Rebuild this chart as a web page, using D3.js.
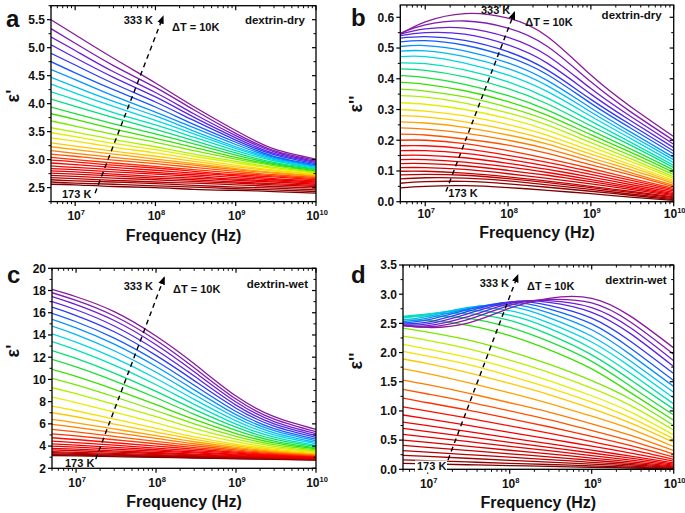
<!DOCTYPE html>
<html><head><meta charset="utf-8">
<script src="https://cdn.jsdelivr.net/npm/d3@7"></script>
<style>
body{margin:0;background:#fff}
svg{display:block;font-family:Arial,"Liberation Sans",Helvetica,sans-serif;font-weight:bold}
</style></head>
<body><svg id="chart" width="685" height="513"></svg>
<script>
// ---------- data ----------
const freqs = [5e6, 1e7, 3e7, 1e8, 3e8, 1e9, 3e9, 1e10];
const temperatures = [333,328,323,318,313,308,303,298,293,288,283,278,273,268,263,258,253,248,243,238,233,228,223,218,213,208,203,198,193,188,183,178,173];

const dryReal = [
[5.50,5.23,4.81,4.37,3.95,3.52,3.19,3.01],[5.34,5.08,4.68,4.29,3.89,3.47,3.16,2.99],
[5.19,4.95,4.57,4.20,3.82,3.43,3.14,2.97],[5.05,4.82,4.47,4.12,3.76,3.39,3.11,2.95],
[4.90,4.69,4.36,4.03,3.70,3.35,3.09,2.93],[4.75,4.55,4.25,3.94,3.63,3.31,3.06,2.91],
[4.61,4.43,4.14,3.85,3.57,3.27,3.04,2.89],[4.47,4.30,4.04,3.78,3.51,3.23,3.02,2.88],
[4.35,4.19,3.95,3.70,3.46,3.20,3.00,2.86],[4.21,4.07,3.84,3.62,3.40,3.16,2.98,2.85],
[4.08,3.95,3.75,3.54,3.34,3.12,2.95,2.83],[3.94,3.82,3.64,3.46,3.28,3.08,2.93,2.82],
[3.82,3.72,3.55,3.38,3.22,3.04,2.91,2.80],[3.69,3.60,3.45,3.31,3.16,3.01,2.89,2.79],
[3.57,3.49,3.36,3.23,3.10,2.97,2.86,2.77],[3.48,3.41,3.29,3.18,3.06,2.94,2.84,2.76],
[3.39,3.33,3.22,3.12,3.01,2.90,2.81,2.74],[3.30,3.24,3.15,3.06,2.97,2.87,2.80,2.73],
[3.23,3.18,3.10,3.01,2.93,2.84,2.77,2.71],[3.16,3.11,3.04,2.97,2.90,2.82,2.76,2.70],
[3.10,3.06,2.99,2.93,2.86,2.79,2.73,2.68],[3.04,3.00,2.94,2.88,2.82,2.76,2.71,2.66],
[2.99,2.96,2.90,2.85,2.79,2.73,2.69,2.64],[2.94,2.91,2.86,2.81,2.76,2.71,2.66,2.62],
[2.89,2.86,2.82,2.77,2.73,2.68,2.64,2.60],[2.84,2.82,2.78,2.74,2.70,2.65,2.62,2.58],
[2.80,2.78,2.74,2.70,2.67,2.63,2.60,2.56],[2.76,2.74,2.71,2.67,2.64,2.60,2.57,2.54],
[2.72,2.70,2.67,2.64,2.61,2.58,2.55,2.52],[2.68,2.66,2.63,2.60,2.58,2.55,2.52,2.49],
[2.64,2.62,2.60,2.57,2.54,2.51,2.49,2.46],[2.60,2.58,2.56,2.53,2.51,2.48,2.46,2.43],
[2.56,2.55,2.52,2.50,2.47,2.45,2.43,2.40]
];

const dryImag = [
[0.545,0.585,0.612,0.597,0.537,0.412,0.310,0.212],[0.548,0.575,0.588,0.565,0.505,0.390,0.293,0.199],
[0.545,0.562,0.565,0.535,0.475,0.368,0.278,0.187],[0.540,0.550,0.545,0.510,0.450,0.350,0.264,0.176],
[0.532,0.537,0.525,0.488,0.428,0.333,0.251,0.165],[0.520,0.524,0.509,0.471,0.413,0.320,0.240,0.155],
[0.505,0.508,0.491,0.452,0.394,0.305,0.227,0.144],[0.490,0.491,0.472,0.433,0.377,0.292,0.217,0.136],
[0.472,0.472,0.451,0.412,0.358,0.278,0.206,0.127],[0.452,0.449,0.429,0.390,0.337,0.262,0.194,0.118],
[0.432,0.427,0.406,0.368,0.318,0.247,0.184,0.111],[0.410,0.404,0.382,0.345,0.298,0.232,0.172,0.103],
[0.388,0.382,0.361,0.326,0.281,0.218,0.161,0.095],[0.366,0.360,0.341,0.307,0.265,0.205,0.151,0.088],
[0.345,0.340,0.321,0.289,0.249,0.192,0.140,0.081],[0.322,0.317,0.300,0.270,0.232,0.179,0.131,0.075],
[0.300,0.295,0.279,0.251,0.216,0.166,0.121,0.069],[0.280,0.276,0.260,0.234,0.201,0.155,0.113,0.064],
[0.260,0.256,0.242,0.217,0.187,0.143,0.104,0.059],[0.240,0.236,0.223,0.200,0.172,0.132,0.095,0.053],
[0.220,0.217,0.204,0.184,0.157,0.120,0.087,0.048],[0.200,0.200,0.189,0.166,0.140,0.108,0.077,0.043],
[0.182,0.182,0.172,0.151,0.128,0.098,0.070,0.039],[0.166,0.166,0.157,0.138,0.116,0.089,0.063,0.035],
[0.151,0.151,0.143,0.125,0.105,0.080,0.056,0.030],[0.137,0.137,0.129,0.113,0.095,0.072,0.050,0.026],
[0.124,0.124,0.117,0.102,0.086,0.065,0.045,0.023],[0.111,0.111,0.105,0.091,0.076,0.058,0.040,0.020],
[0.099,0.099,0.093,0.081,0.067,0.050,0.034,0.016],[0.087,0.089,0.086,0.075,0.062,0.046,0.030,0.013],
[0.074,0.078,0.077,0.068,0.055,0.040,0.025,0.010],[0.060,0.065,0.066,0.058,0.047,0.034,0.021,0.007],
[0.045,0.050,0.052,0.046,0.037,0.026,0.015,0.004]
];

const wetReal = [
[18.10,17.44,16.10,13.90,11.40,8.50,6.65,5.50],[17.80,17.11,15.71,13.53,11.05,8.23,6.43,5.30],
[17.45,16.73,15.30,13.12,10.69,7.97,6.21,5.12],[17.00,16.27,14.81,12.65,10.30,7.69,6.00,4.95],
[16.50,15.75,14.29,12.16,9.89,7.41,5.79,4.78],[15.95,15.19,13.72,11.66,9.47,7.11,5.57,4.62],
[15.40,14.63,13.17,11.16,9.06,6.83,5.38,4.47],[14.80,14.04,12.58,10.64,8.64,6.56,5.19,4.33],
[14.10,13.35,11.93,10.08,8.20,6.27,5.00,4.20],[13.40,12.66,11.28,9.52,7.76,5.98,4.81,4.07],
[12.60,11.89,10.57,8.92,7.31,5.70,4.62,3.95],[11.80,11.12,9.87,8.35,6.86,5.42,4.45,3.84],
[10.90,10.27,9.11,7.73,6.40,5.13,4.28,3.74],[10.10,9.51,8.44,7.18,6.00,4.88,4.13,3.65],
[9.25,8.71,7.74,6.64,5.59,4.62,3.98,3.56],[8.40,7.92,7.06,6.08,5.19,4.39,3.83,3.48],
[7.60,7.18,6.43,5.59,4.83,4.16,3.70,3.41],[7.00,6.64,5.98,5.26,4.61,4.03,3.62,3.34],
[6.40,6.09,5.54,4.94,4.39,3.89,3.53,3.28],[5.95,5.68,5.21,4.69,4.21,3.77,3.46,3.22],
[5.50,5.27,4.87,4.43,4.03,3.66,3.39,3.17],[5.10,4.91,4.57,4.21,3.87,3.55,3.31,3.12],
[4.75,4.59,4.30,4.00,3.72,3.45,3.24,3.07],[4.45,4.31,4.08,3.82,3.59,3.36,3.18,3.03],
[4.20,4.09,3.89,3.67,3.47,3.28,3.13,2.99],[4.00,3.90,3.73,3.55,3.38,3.21,3.08,2.95],
[3.80,3.72,3.57,3.42,3.28,3.14,3.02,2.91],[3.65,3.58,3.46,3.33,3.21,3.08,2.98,2.88],
[3.50,3.44,3.34,3.23,3.13,3.03,2.94,2.85],[3.40,3.35,3.26,3.16,3.07,2.98,2.90,2.82],
[3.30,3.25,3.18,3.10,3.02,2.94,2.87,2.79],[3.22,3.18,3.11,3.04,2.97,2.89,2.83,2.76],
[3.15,3.11,3.05,2.99,2.92,2.86,2.80,2.73]
];

const wetImag = [
[2.47,2.43,2.50,2.76,2.93,2.93,2.62,2.08],[2.46,2.44,2.56,2.81,2.91,2.85,2.52,1.97],
[2.46,2.46,2.61,2.84,2.89,2.77,2.42,1.86],[2.47,2.49,2.66,2.86,2.86,2.69,2.32,1.76],
[2.49,2.52,2.70,2.87,2.81,2.59,2.19,1.64],[2.51,2.56,2.73,2.86,2.75,2.49,2.07,1.52],
[2.53,2.59,2.75,2.83,2.68,2.39,1.96,1.42],[2.56,2.62,2.77,2.79,2.60,2.28,1.85,1.32],
[2.59,2.65,2.75,2.72,2.51,2.18,1.75,1.22],[2.61,2.66,2.72,2.64,2.42,2.07,1.64,1.12],
[2.62,2.66,2.67,2.55,2.31,1.96,1.53,1.03],[2.61,2.63,2.59,2.43,2.19,1.85,1.42,0.93],
[2.56,2.55,2.47,2.29,2.05,1.72,1.31,0.84],[2.42,2.35,2.22,2.02,1.80,1.52,1.20,0.75],
[2.28,2.21,2.07,1.87,1.66,1.39,1.09,0.67],[2.14,2.06,1.92,1.73,1.52,1.26,0.98,0.59],
[2.02,1.94,1.80,1.60,1.40,1.15,0.88,0.52],[1.89,1.81,1.66,1.47,1.28,1.04,0.79,0.46],
[1.72,1.64,1.49,1.31,1.13,0.91,0.69,0.39],[1.53,1.45,1.31,1.14,0.98,0.78,0.58,0.32],
[1.37,1.29,1.16,1.00,0.85,0.665,0.485,0.26],[1.22,1.14,1.018,0.867,0.729,0.565,0.406,0.21],
[1.07,0.997,0.881,0.743,0.619,0.473,0.336,0.17],[0.93,0.863,0.756,0.633,0.523,0.396,0.278,0.14],
[0.81,0.747,0.649,0.537,0.439,0.327,0.226,0.11],[0.70,0.645,0.560,0.462,0.377,0.279,0.191,0.09],
[0.60,0.552,0.478,0.393,0.319,0.234,0.157,0.07],[0.50,0.460,0.398,0.326,0.264,0.193,0.128,0.055],
[0.41,0.377,0.325,0.266,0.214,0.155,0.101,0.04],[0.32,0.294,0.253,0.207,0.166,0.120,0.078,0.03],
[0.24,0.220,0.189,0.154,0.123,0.088,0.056,0.02],[0.16,0.147,0.126,0.102,0.082,0.058,0.036,0.012],
[0.10,0.092,0.078,0.063,0.050,0.035,0.022,0.006]
];

const ticksA = [2.5,3.0,3.5,4.0,4.5,5.0,5.5];
const ticksB = [0.0,0.1,0.2,0.3,0.4,0.5,0.6];
const ticksC = [2,4,6,8,10,12,14,16,18,20];
const ticksD = [0.0,0.5,1.0,1.5,2.0,2.5,3.0,3.5];
const decadeExps = [7,8,9,10];

// dashed temperature arrows: [start (173 K), end (333 K)] in (frequency, value)
const arrowA = [[1.77e7,2.40],[1.24e8,5.55]];
const arrowB = [[1.78e7,0.033],[1.19e8,0.615]];
const arrowC = [[1.76e7,2.81],[1.26e8,19.15]];
const arrowD = [[1.77e7,0.16],[1.25e8,3.32]];

// rainbow palette (position 0 = 173 K, 1 = 333 K)
const colorStops = [0,0.08,0.18,0.30,0.36,0.42,0.47,0.52,0.57,0.63,0.69,0.74,0.80,0.86,0.92,1];
const colorValues = ["#7a0000","#b00000","#e00000","#ff0000","#ff4000","#ff8c00","#ffc800","#f0f000","#a8f000","#30e000","#00e080","#00e0e0","#00a8ff","#1e40ff","#6a1ee0","#8a1a9a"];

// ---------- drawing ----------
const svg = d3.select("#chart");
const color = d3.scaleLinear().domain(colorStops).range(colorValues).interpolate(d3.interpolateRgb);
const tMin = d3.min(temperatures), tMax = d3.max(temperatures);

svg.append("defs").append("marker")
  .attr("id","arrowhead").attr("viewBox","0 0 10 10").attr("refX",8).attr("refY",5)
  .attr("markerWidth",6).attr("markerHeight",6).attr("orient","auto")
  .append("path").attr("d","M0,1 L10,5 L0,9 Z").attr("fill","#000");

const panels = [
  {id:"a", data:dryReal, yDom:[2.25,5.75], ticks:ticksA, fmt:d3.format(".1f"), box:[51,316,5.7,201.6],
   yTitle:"ε'", yTitleXY:[13,96], sample:"dextrin-dry", arrow:arrowA, xLabDy:18.5, xTitleDy:39.5,
   letterXY:[6,27], hot:[102,18], dt:[121,25], samp:[11,18], cold:[11,192], coldBg:false},
  {id:"b", data:dryImag, yDom:[0,0.64], ticks:ticksB, fmt:d3.format(".1f"), box:[400.3,673.7,5,201.7],
   yTitle:"ε''", yTitleXY:[356,104], sample:"dextrin-dry", arrow:arrowB, xLabDy:16.5, xTitleDy:36.5,
   letterXY:[351,26], hot:[110,9], dt:[125,21], samp:[12,14], cold:[48,192], coldBg:false},
  {id:"c", data:wetReal, yDom:[2,20], ticks:ticksC, fmt:d3.format("d"), box:[52,316,268.3,468.3],
   yTitle:"ε'", yTitleXY:[13,351], sample:"dextrin-wet", arrow:arrowC, xLabDy:18.5, xTitleDy:39,
   letterXY:[7,283], hot:[101,22], dt:[121,25], samp:[8,20], cold:[13,199], coldBg:false},
  {id:"d", data:wetImag, yDom:[0,3.5], ticks:ticksD, fmt:d3.format(".1f"), box:[403,673.7,265,469.3],
   yTitle:"ε''", yTitleXY:[356,361], sample:"dextrin-wet", arrow:arrowD, xLabDy:19, xTitleDy:39,
   letterXY:[351,283], hot:[106,22], dt:[124,24.5], samp:[7,19], cold:[14,205], coldBg:true}
];

panels.forEach(p => {
  const [x0,x1,y0,y1] = p.box;
  const x = d3.scaleLog().domain([freqs[0], freqs[freqs.length-1]]).range([x0,x1]);
  const y = d3.scaleLinear().domain(p.yDom).range([y1,y0]);
  const g = svg.append("g");

  g.append("clipPath").attr("id","clip-"+p.id).append("rect")
    .attr("x",x0).attr("y",y0).attr("width",x1-x0).attr("height",y1-y0);

  const line = d3.line().x(d=>x(d[0])).y(d=>y(d[1])).curve(d3.curveNatural);
  const curves = g.append("g").attr("clip-path","url(#clip-"+p.id+")");
  // draw coldest first so the hottest curves sit on top
  for (let i = p.data.length-1; i >= 0; i--) {
    const pts = freqs.map((f,k)=>[f,p.data[i][k]]);
    curves.append("path").attr("d",line(pts)).attr("fill","none")
      .attr("stroke",color((temperatures[i]-tMin)/(tMax-tMin)))
      .attr("stroke-width",1.3);
  }

  // dashed arrow
  g.append("line")
    .attr("x1",x(p.arrow[0][0])).attr("y1",y(p.arrow[0][1]))
    .attr("x2",x(p.arrow[1][0])).attr("y2",y(p.arrow[1][1]))
    .attr("stroke","#000").attr("stroke-width",1.4).attr("stroke-dasharray","5,4")
    .attr("marker-end","url(#arrowhead)");

  // frame
  g.append("rect").attr("x",x0).attr("y",y0).attr("width",x1-x0).attr("height",y1-y0)
    .attr("fill","none").attr("stroke","#000").attr("stroke-width",1.3);

  // x ticks
  const [fLo,fHi] = x.domain();
  const minors = [];
  for (let e = 6; e <= 9; e++) for (let m = 2; m <= 9; m++) { const v = m*Math.pow(10,e); if (v>=fLo && v<=fHi) minors.push(v); }
  minors.forEach(v => {
    g.append("line").attr("x1",x(v)).attr("x2",x(v)).attr("y1",y1).attr("y2",y1+2.5).attr("stroke","#000").attr("stroke-width",1);
    g.append("line").attr("x1",x(v)).attr("x2",x(v)).attr("y1",y0).attr("y2",y0+2.5).attr("stroke","#000").attr("stroke-width",1);
  });
  decadeExps.forEach(e => {
    const v = Math.pow(10,e), xv = x(v);
    g.append("line").attr("x1",xv).attr("x2",xv).attr("y1",y1).attr("y2",y1+4.5).attr("stroke","#000").attr("stroke-width",1.2);
    g.append("line").attr("x1",xv).attr("x2",xv).attr("y1",y0).attr("y2",y0+4.5).attr("stroke","#000").attr("stroke-width",1.2);
    const t = g.append("text").attr("x",xv+1).attr("y",y1+p.xLabDy).attr("text-anchor","middle")
      .attr("font-size",12).attr("fill","#111").text("10");
    t.append("tspan").attr("dy",-5).attr("font-size",7.5).text(e);
  });

  // y ticks
  const step = p.ticks[1]-p.ticks[0];
  p.ticks.forEach((v,k) => {
    const yv = y(v);
    g.append("line").attr("x1",x0-4).attr("x2",x0).attr("y1",yv).attr("y2",yv).attr("stroke","#000").attr("stroke-width",1.2);
    g.append("line").attr("x1",x1-4).attr("x2",x1).attr("y1",yv).attr("y2",yv).attr("stroke","#000").attr("stroke-width",1.2);
    g.append("text").attr("x",x0-6).attr("y",yv).attr("dy","0.36em").attr("text-anchor","end")
      .attr("font-size",12).attr("fill","#111").text(p.fmt(v));
  });
  const yMinors = [];
  for (let v = p.ticks[0]-step/2; v <= p.yDom[1]; v += step) if (v >= p.yDom[0]) yMinors.push(v);
  yMinors.forEach(v => {
    const yv = y(v);
    g.append("line").attr("x1",x0-2.5).attr("x2",x0).attr("y1",yv).attr("y2",yv).attr("stroke","#000").attr("stroke-width",1);
    g.append("line").attr("x1",x1-2.5).attr("x2",x1).attr("y1",yv).attr("y2",yv).attr("stroke","#000").attr("stroke-width",1);
  });

  // titles
  g.append("text").attr("x",(x0+x1)/2).attr("y",y1+p.xTitleDy).attr("text-anchor","middle")
    .attr("font-size",16).attr("fill","#111").text("Frequency (Hz)");
  g.append("text").attr("transform",`translate(${p.yTitleXY[0]},${p.yTitleXY[1]}) rotate(-90)`)
    .attr("text-anchor","middle").attr("dy","0.35em").attr("font-size",18).attr("fill","#111").text(p.yTitle);
  g.append("text").attr("x",p.letterXY[0]).attr("y",p.letterXY[1]).attr("font-size",24).attr("fill","#111").text(p.id);

  // annotations
  g.append("text").attr("x",x0+p.hot[0]).attr("y",y0+p.hot[1]).attr("text-anchor","end")
    .attr("font-size",11).attr("fill","#111").text("333 K");
  g.append("text").attr("x",x0+p.dt[0]).attr("y",y0+p.dt[1])
    .attr("font-size",11).attr("fill","#111").text("ΔT = 10K");
  g.append("text").attr("x",x1-p.samp[0]).attr("y",y0+p.samp[1]).attr("text-anchor","end")
    .attr("font-size",11.5).attr("fill","#111").text(p.sample);
  if (p.coldBg) {
    g.append("rect").attr("x",x0+p.cold[0]-2).attr("y",y0+p.cold[1]-9.5).attr("width",32).attr("height",12).attr("fill","#fff");
  }
  g.append("text").attr("x",x0+p.cold[0]).attr("y",y0+p.cold[1])
    .attr("font-size",11).attr("fill","#111").text("173 K");
});
</script>
</body></html>
